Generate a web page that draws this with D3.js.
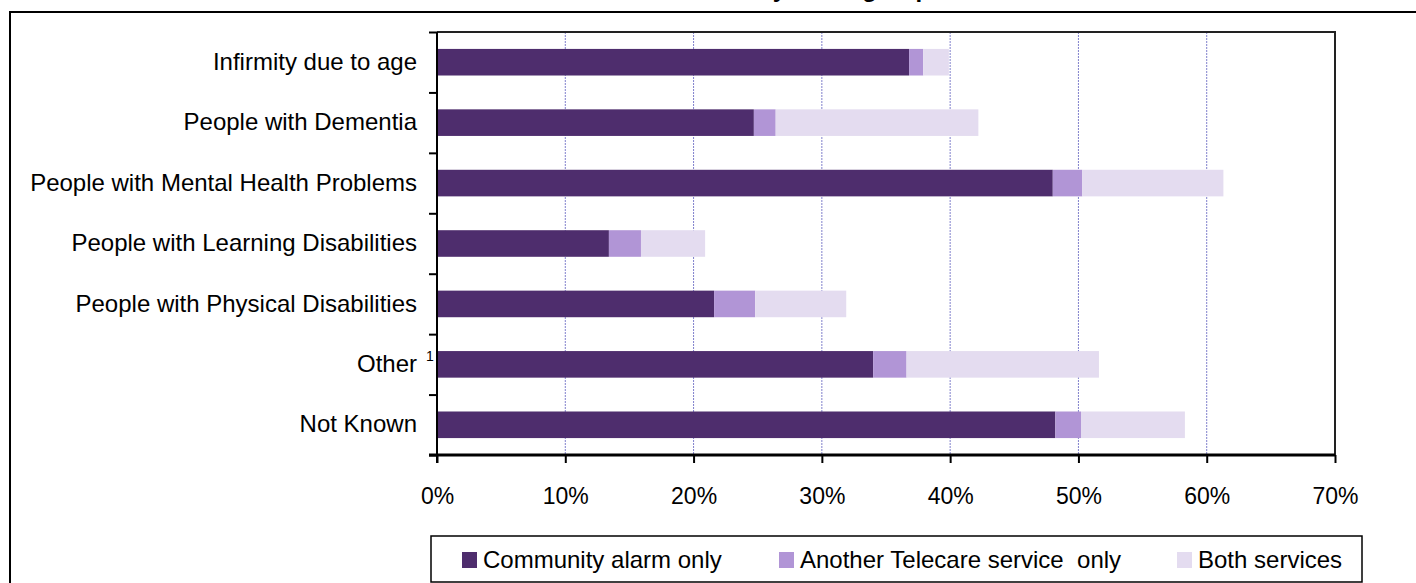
<!DOCTYPE html>
<html>
<head>
<meta charset="utf-8">
<script src="https://cdn.jsdelivr.net/npm/d3@7"></script>
<style>
  html, body { margin: 0; padding: 0; background: #fff; overflow: hidden; }
  svg { display: block; font-family: "Liberation Sans", Arial, sans-serif; }
</style>
</head>
<body>
<svg id="chart" width="1416" height="583"></svg>
<script>
// ---- data ----
const categories = [
  "Infirmity due to age",
  "People with Dementia",
  "People with Mental Health Problems",
  "People with Learning Disabilities",
  "People with Physical Disabilities",
  "Other",
  "Not Known"
];
const seriesNames = ["Community alarm only", "Another Telecare service  only", "Both services"];
const communityAlarmOnly = [36.8, 24.7, 48.0, 13.4, 21.6, 34.0, 48.2];
const anotherTelecareOnly = [1.1, 1.7, 2.3, 2.5, 3.2, 2.6, 2.0];
const bothServices = [2.0, 15.8, 11.0, 5.0, 7.1, 15.0, 8.1];
const xTicks = [0, 10, 20, 30, 40, 50, 60, 70];
const footnotes = { "Other": "1" };
const titleText = "Telecare service users by client group";

// ---- styles ----
const colors = ["#4e2d6d", "#b195d6", "#e4dcf0"];

const svg = d3.select("#chart");

// outer frame (extends beyond the visible area on right/bottom)
svg.append("rect")
  .attr("x", 10).attr("y", 12).attr("width", 1500).attr("height", 700)
  .attr("fill", "none").attr("stroke", "#000").attr("stroke-width", 2);

// title, clipped at the top edge as in the reference (only descenders visible)
svg.append("text")
  .attr("x", 713).attr("y", -3)
  .attr("text-anchor", "middle")
  .attr("font-size", 24).attr("font-weight", "bold")
  .text(titleText);

const pLeft = 437, pRight = 1335, pTop = 32, pBottom = 455;

const x = d3.scaleLinear().domain([0, 70]).range([pLeft, pRight]);
const y = d3.scaleBand().domain(categories).range([pTop, pBottom])
  .paddingInner(0.56).paddingOuter(0.28);

// stacked data
const rows = categories.map((c, i) => ({
  cat: c, s0: communityAlarmOnly[i], s1: anotherTelecareOnly[i], s2: bothServices[i]
}));
const stacked = d3.stack().keys(["s0", "s1", "s2"])(rows);

// gridlines
svg.append("g").selectAll("line")
  .data(xTicks.filter(t => t > 0 && t < 70))
  .join("line")
  .attr("x1", d => x(d)).attr("x2", d => x(d))
  .attr("y1", pTop).attr("y2", pBottom)
  .attr("stroke", "#8080cc").attr("stroke-width", 1)
  .attr("stroke-dasharray", "2,1");

// plot-area border (top & right)
svg.append("path")
  .attr("d", `M${pLeft},${pTop}H${pRight}V${pBottom}`)
  .attr("fill", "none").attr("stroke", "#222").attr("stroke-width", 2);

// bars
svg.append("g").selectAll("g")
  .data(stacked)
  .join("g")
  .attr("fill", (d, i) => colors[i])
  .selectAll("rect")
  .data(d => d)
  .join("rect")
  .attr("x", d => x(d[0]))
  .attr("width", d => x(d[1]) - x(d[0]))
  .attr("y", d => y(d.data.cat))
  .attr("height", y.bandwidth());

// x axis
const xAxis = d3.axisBottom(x)
  .tickValues(xTicks)
  .tickFormat(d => d + "%")
  .tickSize(8)
  .tickSizeOuter(0);
const gx = svg.append("g").attr("transform", `translate(0,${pBottom})`).call(xAxis);
gx.select(".domain").remove();
gx.selectAll(".tick line").attr("stroke", "#000").attr("stroke-width", 2);
gx.selectAll(".tick text")
  .attr("y", 41).attr("dy", "0.35em")
  .attr("font-size", 23).attr("fill", "#000")
  .attr("font-family", "Liberation Sans, Arial, sans-serif");
svg.append("line")
  .attr("x1", pLeft - 8).attr("x2", pRight)
  .attr("y1", pBottom).attr("y2", pBottom)
  .attr("stroke", "#000").attr("stroke-width", 3);

// y axis: boundary ticks
const yb = d3.scaleLinear().domain([0, categories.length]).range([pTop, pBottom]);
const gyb = svg.append("g").attr("transform", `translate(${pLeft},0)`)
  .call(d3.axisLeft(yb).ticks(categories.length).tickSize(8).tickSizeOuter(0).tickFormat(""));
gyb.select(".domain").remove();
gyb.selectAll(".tick line").attr("stroke", "#000").attr("stroke-width", 2);
svg.append("line")
  .attr("x1", pLeft).attr("x2", pLeft)
  .attr("y1", pTop).attr("y2", pBottom + 8)
  .attr("stroke", "#000").attr("stroke-width", 2);

// y axis labels
const gy = svg.append("g").attr("transform", `translate(${pLeft},0)`)
  .call(d3.axisLeft(y).tickSize(0).tickPadding(20));
gy.select(".domain").remove();
gy.selectAll(".tick text")
  .attr("font-size", 24).attr("fill", "#000")
  .attr("font-family", "Liberation Sans, Arial, sans-serif");

// footnote markers
Object.entries(footnotes).forEach(([cat, mark]) => {
  svg.append("text")
    .attr("x", pLeft - 7).attr("y", y(cat) + y.bandwidth() / 2 - 3)
    .attr("text-anchor", "middle")
    .attr("font-size", 14).attr("fill", "#000")
    .text(mark);
});

// legend
const legend = svg.append("g");
legend.append("rect")
  .attr("x", 431).attr("y", 536).attr("width", 931).attr("height", 46)
  .attr("fill", "#fff").attr("stroke", "#000").attr("stroke-width", 1.5);
const legendX = [462, 779, 1177];
const li = legend.selectAll("g.item").data(seriesNames).join("g").attr("class", "item")
  .attr("transform", (d, i) => `translate(${legendX[i]},0)`);
li.append("rect").attr("x", 0).attr("y", 552).attr("width", 15).attr("height", 16)
  .attr("fill", (d, i) => colors[i]);
li.append("text").attr("x", 21).attr("y", 560).attr("dy", "0.35em")
  .attr("font-size", 24).attr("fill", "#000")
  .style("white-space", "pre")
  .text(d => d);
</script>
</body>
</html>
